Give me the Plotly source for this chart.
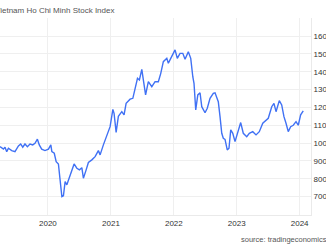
import plotly.graph_objects as go

dates = [
    "2019-03-29", "2019-04-18", "2019-04-27", "2019-05-07", "2019-05-17", "2019-06-05",
    "2019-06-24", "2019-07-14", "2019-07-27", "2019-08-08", "2019-08-21", "2019-09-04",
    "2019-09-19", "2019-10-05", "2019-10-18", "2019-11-01", "2019-11-12", "2019-11-26",
    "2019-12-15", "2020-01-04", "2020-01-18", "2020-01-24", "2020-02-07", "2020-02-18",
    "2020-03-02", "2020-03-12", "2020-03-22", "2020-03-31", "2020-04-10", "2020-04-20",
    "2020-05-05", "2020-05-19", "2020-06-01", "2020-06-17", "2020-07-02", "2020-07-16",
    "2020-07-25", "2020-08-10", "2020-08-23", "2020-09-12", "2020-10-01", "2020-10-20",
    "2020-10-30", "2020-11-18", "2020-12-08", "2020-12-27", "2021-01-12", "2021-01-19",
    "2021-01-31", "2021-02-13", "2021-03-05", "2021-03-18", "2021-03-30", "2021-04-22",
    "2021-05-08", "2021-05-21", "2021-06-04", "2021-06-15", "2021-06-29", "2021-07-08",
    "2021-07-21", "2021-08-06", "2021-08-26", "2021-09-14", "2021-10-03", "2021-10-17",
    "2021-11-01", "2021-11-21", "2021-11-30", "2021-12-14", "2021-12-29", "2022-01-08",
    "2022-01-21", "2022-02-06", "2022-02-22", "2022-03-07", "2022-03-26", "2022-04-09",
    "2022-04-21", "2022-04-28", "2022-05-08", "2022-05-20", "2022-06-02", "2022-06-12",
    "2022-07-01", "2022-07-14", "2022-07-30", "2022-08-18", "2022-08-28", "2022-09-16",
    "2022-09-26", "2022-10-06", "2022-10-15", "2022-10-25", "2022-11-07", "2022-11-17",
    "2022-11-27", "2022-12-09", "2022-12-22", "2023-01-04", "2023-01-24", "2023-02-08",
    "2023-02-28", "2023-03-15", "2023-04-04", "2023-04-23", "2023-05-12", "2023-06-01",
    "2023-06-20", "2023-07-03", "2023-07-23", "2023-08-05", "2023-08-17", "2023-09-05",
    "2023-09-19", "2023-10-02", "2023-10-14", "2023-10-27", "2023-11-10", "2023-11-25",
    "2023-12-11", "2023-12-24", "2024-01-07", "2024-01-22",
]
values = [
    980, 966, 977, 952, 971, 958,
    952, 984, 995, 977, 995, 980,
    995, 990, 999, 1022, 990, 966,
    958, 966, 990, 952, 943, 896,
    883, 776, 700, 705, 784, 766,
    809, 840, 883, 859, 850, 862,
    803, 850, 891, 906, 924, 958,
    934, 990, 1046, 1092, 1189, 1167,
    1060, 1150, 1176, 1158, 1223, 1246,
    1251, 1298, 1363, 1354, 1413, 1354,
    1270, 1344, 1316, 1344, 1344, 1391,
    1456, 1475, 1447, 1475, 1503, 1522,
    1475, 1503, 1503, 1470, 1512, 1475,
    1372, 1335, 1186, 1270, 1282, 1204,
    1170, 1195, 1251, 1279, 1282, 1232,
    1148, 1055, 1027, 1021, 962, 971,
    1074, 1055, 1008, 1046, 1115, 1055,
    1036, 1055, 1064, 1046, 1064, 1111,
    1130, 1139, 1204, 1223, 1176, 1238,
    1214, 1148, 1111, 1064, 1092, 1100,
    1120, 1100, 1158, 1180,
]

y_tickvals = [600, 700, 800, 900, 1000, 1100, 1200, 1300, 1400, 1500, 1600, 1700]
y_ticktext = ["", "700", "800", "900", "1000", "1100", "1200", "1300", "1400", "1500", "1600", ""]
x_tickvals = ["2020-01-01", "2021-01-01", "2022-01-01", "2023-01-01", "2024-01-01"]
x_ticktext = ["2020", "2021", "2022", "2023", "2024"]

title_text = "Vietnam Ho Chi Minh Stock Index"
source_text = "source: tradingeconomics.com"

fig = go.Figure()
fig.add_trace(go.Scatter(
    x=dates, y=values, mode="lines",
    line=dict(color="#4071f4", width=1.4),
    hoverinfo="skip",
))

fig.update_layout(
    width=326, height=245,
    margin=dict(l=0, r=15, t=18, b=30),
    paper_bgcolor="white", plot_bgcolor="white",
    showlegend=False,
    font=dict(family="Liberation Sans, Arial, sans-serif", size=8, color="#333"),
    annotations=[
        dict(text=title_text, xref="paper", yref="paper", x=-7/311, y=1.04,
             xanchor="left", yanchor="middle", showarrow=False,
             font=dict(size=8, color="#555")),
        dict(text=source_text, xref="paper", yref="paper", x=239/311, y=-0.122,
             xanchor="left", yanchor="middle", showarrow=False,
             font=dict(size=7.5, color="#555")),
    ],
)
fig.update_xaxes(
    type="date", range=["2019-03-29", "2024-03-07"],
    tickvals=x_tickvals, ticktext=x_ticktext, automargin=False,
    showgrid=True, gridcolor="#efefef", gridwidth=1,
    showline=True, linecolor="#eaeaea", linewidth=1, mirror=False,
    ticks="", zeroline=False, tickfont=dict(size=8, color="#333"),
)
fig.update_yaxes(
    range=[597, 1701], side="right", automargin=False,
    tickvals=y_tickvals, ticktext=y_ticktext,
    showgrid=True, gridcolor="#efefef", gridwidth=1,
    showline=True, linecolor="#eaeaea", linewidth=1,
    ticks="", zeroline=False, tickfont=dict(size=8, color="#333"),
)

fig.write_html("out.html")
